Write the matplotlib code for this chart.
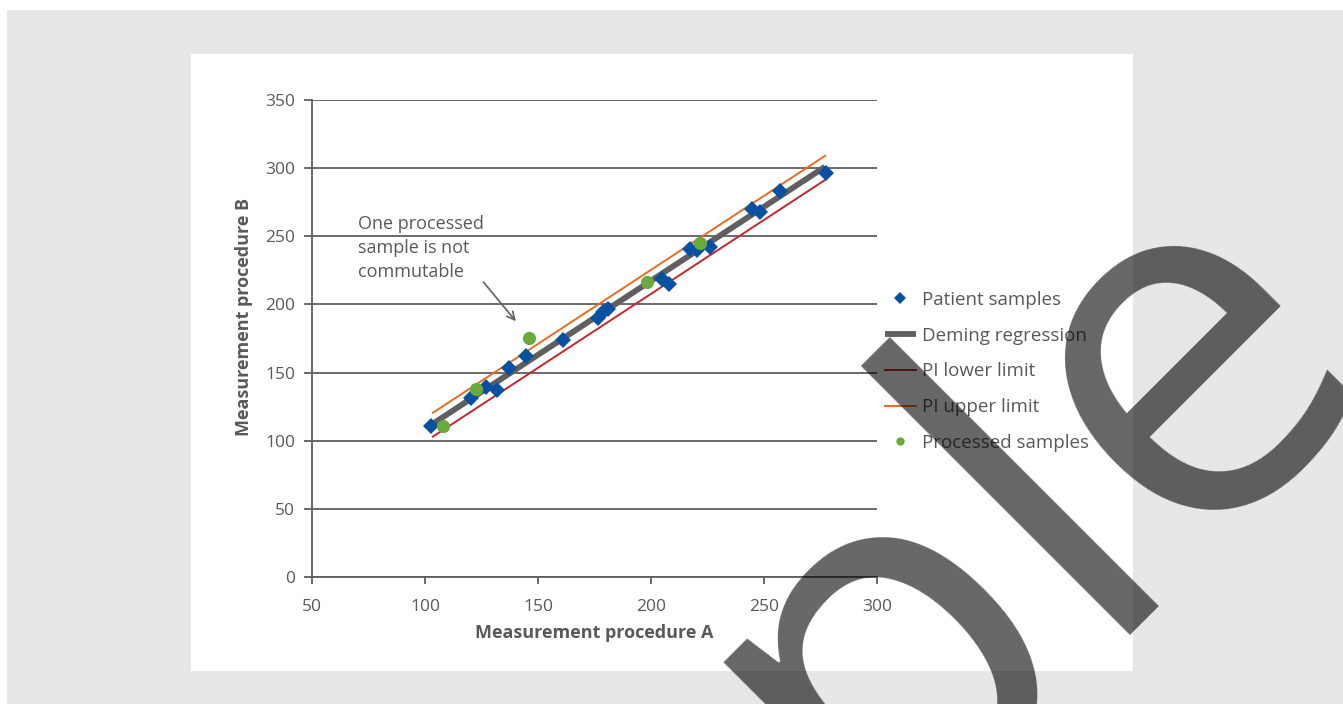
import matplotlib
matplotlib.use("Agg")
import matplotlib.pyplot as plt
from matplotlib.patches import Rectangle
from matplotlib.lines import Line2D

plt.rcParams['font.family'] = ['Open Sans', 'DejaVu Sans']

# patient samples (measurement procedure A vs B)
patient_a = [102.7, 120.2, 127.0, 132.0, 137.0, 144.6, 161.2, 176.5, 178.8, 181.0,
             204.9, 208.0, 217.3, 220.4, 226.1, 244.6, 248.2, 257.1, 277.3]
patient_b = [110.8, 131.1, 139.2, 137.2, 153.6, 162.4, 173.9, 190.0, 194.4, 196.6,
             218.6, 215.0, 240.7, 240.0, 242.3, 269.8, 267.8, 283.4, 296.2]

# processed samples
processed_a = [108.1, 122.6, 146.2, 198.2, 221.7]
processed_b = [110.8, 137.7, 175.6, 216.4, 244.8]

# Deming regression and prediction interval end points
line_a = [103.5, 277.0]
deming_b = [112.5, 301.0]
pi_lower_b = [103.0, 291.3]
pi_upper_b = [120.5, 309.0]

x_ticks = [50, 100, 150, 200, 250, 300]
y_ticks = [0, 50, 100, 150, 200, 250, 300, 350]

BLUE = '#0a50a1'
GREEN = '#6aaa3c'
DGREY = '#5f5f5f'
ORANGE = '#ea6b1f'
RED = '#c1272d'
TXT = '#595959'

W, H = 1343, 704
fig = plt.figure(figsize=(W / 100, H / 100), dpi=100)
fig.patch.set_facecolor('white')

# grey page background and white chart panel
fig.patches.append(Rectangle((7 / W, 0), 1, (H - 10) / H, transform=fig.transFigure,
                             facecolor='#e6e7e8', edgecolor='none', zorder=-10))
fig.patches.append(Rectangle((191 / W, (H - 671) / H), (1133 - 191) / W, (671 - 54) / H,
                             transform=fig.transFigure, facecolor='white',
                             edgecolor='none', zorder=-9))

ax = fig.add_axes([312 / W, (H - 577) / H, (877 - 312) / W, (577 - 100) / H])
ax.set_facecolor('none')

ax.plot(line_a, deming_b, color=DGREY, lw=4.2, solid_capstyle='butt', zorder=2)
ax.plot(line_a, pi_lower_b, color=RED, lw=1.4, zorder=2)
ax.plot(line_a, pi_upper_b, color=ORANGE, lw=1.4, zorder=2)
ax.plot(patient_a, patient_b, linestyle='none', marker='D', markersize=7.8,
        color=BLUE, markeredgewidth=0, zorder=3)
ax.plot(processed_a, processed_b, linestyle='none', marker='o', markersize=9.5,
        color=GREEN, markeredgewidth=0, zorder=4)

ax.set_xlim(50, 300)
ax.set_ylim(0, 350)
ax.set_xticks(x_ticks)
ax.set_yticks(y_ticks)
ax.grid(axis='y', color=DGREY, lw=1.3, zorder=0)
ax.set_axisbelow(True)
for s in ['top', 'right']:
    ax.spines[s].set_visible(False)
for s in ['left', 'bottom']:
    ax.spines[s].set_color(DGREY)
    ax.spines[s].set_linewidth(1.3)
ax.tick_params(axis='both', colors=DGREY, labelcolor=TXT, labelsize=12.5, width=1.3)
ax.tick_params(axis='y', length=6, pad=6)
ax.tick_params(axis='x', length=5, pad=10.5)

ax.set_xlabel('Measurement procedure A', fontsize=13, fontweight='bold', color=TXT, labelpad=7)
ax.set_ylabel('Measurement procedure B', fontsize=13, fontweight='bold', color=TXT)
ax.yaxis.set_label_coords(-0.104, 0.545)

ax.annotate('', xy=(141.0, 186.1), xytext=(125.1, 217.9),
            arrowprops=dict(arrowstyle='->', color=DGREY, lw=1.2, mutation_scale=14))
ax.text(70.2, 265.5, 'One processed\nsample is not\ncommutable', fontsize=13,
        color=TXT, ha='left', va='top', linespacing=1.43)

handles = [
    Line2D([], [], linestyle='none', marker='D', markersize=6.3, color=BLUE, markeredgewidth=0),
    Line2D([], [], color=DGREY, lw=4.2, solid_capstyle='butt'),
    Line2D([], [], color=RED, lw=1.4),
    Line2D([], [], color=ORANGE, lw=1.4),
    Line2D([], [], linestyle='none', marker='o', markersize=6, color=GREEN, markeredgewidth=0),
]
labels = ['Patient samples', 'Deming regression', 'PI lower limit', 'PI upper limit',
          'Processed samples']
leg = ax.legend(handles, labels, loc='center left', bbox_to_anchor=(1.0, 0.431),
                frameon=False, fontsize=13.5, handlelength=1.7, handletextpad=0.3,
                labelspacing=0.95, borderaxespad=0.0)
for t in leg.get_texts():
    t.set_color(TXT)

# watermark
fig.text(1382 / W, (H - 358) / H, 'Sample', fontsize=361, rotation=45,
         rotation_mode='anchor', ha='right', va='baseline', color='black',
         alpha=0.6, zorder=20)

fig.savefig('out.png', dpi=100)
